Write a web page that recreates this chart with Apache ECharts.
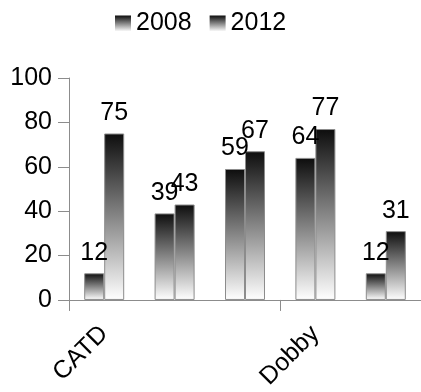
<!DOCTYPE html>
<html>
<head>
<meta charset="utf-8">
<script src="https://cdn.jsdelivr.net/npm/echarts@6/dist/echarts.min.js"></script>
<style>
  html, body { margin: 0; padding: 0; background: #fff; }
  #chart { width: 421px; height: 392px; }
</style>
</head>
<body>
<div id="chart"></div>
<script>
// Categories along the x axis (only every third name is shown)
const categories = ['CATD', 'Bramble', 'Corvid', 'Dobby', 'Ember'];
// Values per year
const values2008 = [12, 39, 59, 64, 12];
const values2012 = [75, 43, 67, 77, 31];
// Tick labels of the value axis
const yTicks = [0, 20, 40, 60, 80, 100];

const FONT = 'Liberation Sans, Arial, sans-serif';
const FONT_SIZE = 25;

// Dark-top to white-bottom fill, applied to each bar
const barFill = new echarts.graphic.LinearGradient(0, 0, 0, 1, [
  { offset: 0, color: '#0d0d0d' },
  { offset: 1, color: '#ffffff' }
]);

function barSeries(name, data) {
  return {
    name: name,
    type: 'bar',
    data: data,
    barWidth: 20,
    barGap: '0%',
    itemStyle: { color: barFill, borderColor: '#8c8c8c', borderWidth: 1 },
    label: {
      show: true,
      position: 'top',
      distance: 8,
      color: '#000',
      fontSize: FONT_SIZE,
      fontFamily: FONT
    }
  };
}

const chart = echarts.init(document.getElementById('chart'), null, { renderer: 'canvas' });
chart.setOption({
  animation: false,
  backgroundColor: '#fff',
  legend: {
    top: 6,
    left: 110,
    itemWidth: 16,
    itemHeight: 16,
    itemGap: 18,
    icon: 'rect',
    itemStyle: { borderWidth: 0 },
    textStyle: { color: '#000', fontSize: FONT_SIZE, fontFamily: FONT },
    data: ['2008', '2012']
  },
  grid: { left: 69, right: -3, top: 78, bottom: 90, containLabel: false },
  xAxis: {
    type: 'category',
    data: categories,
    axisLine: { lineStyle: { color: '#8c8c8c', width: 1 } },
    axisTick: { show: true, length: 11, alignWithLabel: false, lineStyle: { color: '#8c8c8c' } },
    axisLabel: {
      interval: 2,
      rotate: 45,
      margin: 30,
      color: '#000',
      fontSize: FONT_SIZE,
      fontFamily: FONT
    },
    splitLine: { show: false }
  },
  yAxis: {
    type: 'value',
    min: yTicks[0],
    max: yTicks[yTicks.length - 1],
    interval: 20,
    axisLine: { show: true, lineStyle: { color: '#8c8c8c', width: 1 } },
    axisTick: { show: true, length: 11, lineStyle: { color: '#8c8c8c' } },
    axisLabel: { margin: 17, color: '#000', fontSize: FONT_SIZE, fontFamily: FONT },
    splitLine: { show: false }
  },
  series: [
    barSeries('2008', values2008),
    barSeries('2012', values2012)
  ]
});
</script>
</body>
</html>
